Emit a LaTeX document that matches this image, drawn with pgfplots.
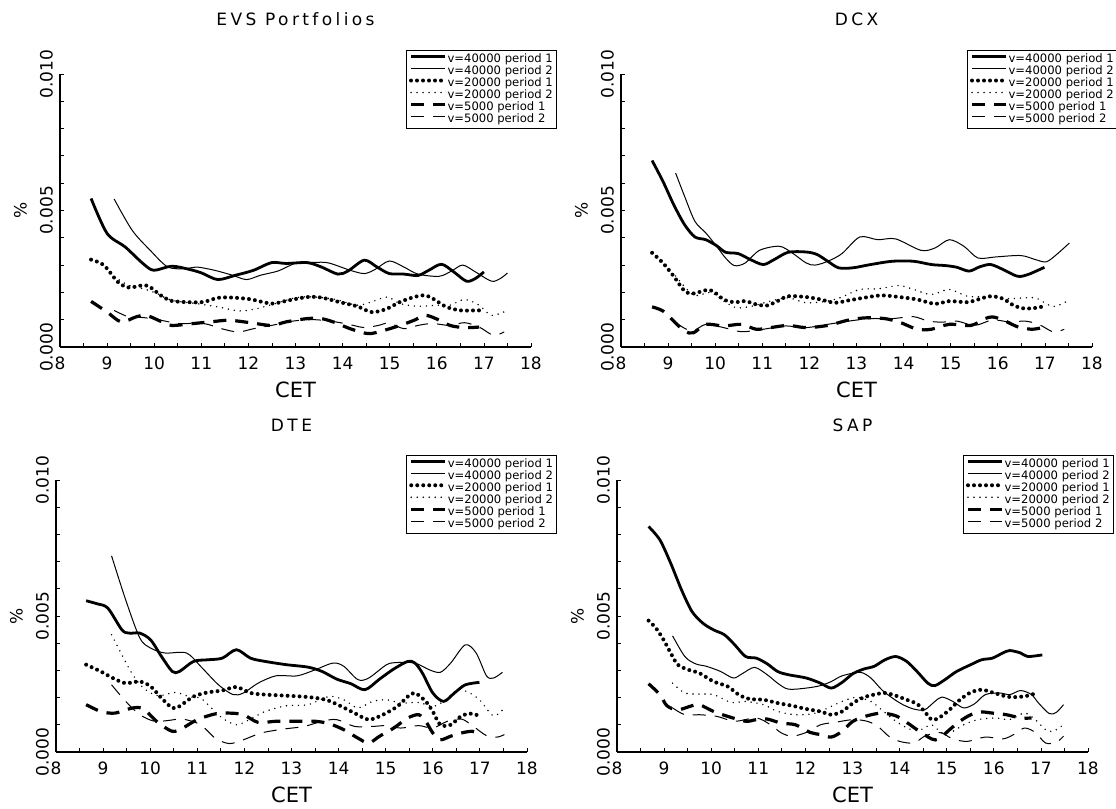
\documentclass[border=0pt]{standalone}
\usepackage{fontspec}
\setmainfont{DejaVu Sans}
\newfontfamily\ttlfont[LetterSpace=20]{DejaVu Sans}
\usepackage{pgfplots}
\pgfplotsset{compat=1.18}

\pgfplotsset{
  panel/.style={
    scale only axis, width=235.5pt, height=136.5pt,
    xmin=8, xmax=18, ymin=0, ymax=0.01,
    axis lines*=left, axis line style={-, line width=0.9pt},
    xtick={8,...,18}, minor x tick num=1,
    ytick={0,0.005,0.01}, minor y tick num=4,
    xtick pos=bottom, ytick pos=left,
    tick align=inside, major tick length=2pt, minor tick length=2pt,
    tick style={line width=0.4pt, black},
    scaled y ticks=false,
    /pgf/number format/assume math mode=true,
    yticklabel style={rotate=90, anchor=south, font=\fontsize{8.5}{10}\selectfont,
      /pgf/number format/fixed, /pgf/number format/fixed zerofill,
      /pgf/number format/precision=3},
    xticklabel style={font=\fontsize{8.5}{10}\selectfont, yshift=-1.5pt},
    title style={at={(axis description cs:0.5,1)}, anchor=base, yshift=18pt,
      font=\fontsize{8.5}{10}\ttlfont},
    xlabel={CET},
    xlabel style={at={(axis description cs:0.5,0)}, anchor=base, yshift=-25.5pt,
      font=\fontsize{10.5}{12}\selectfont},
    ylabel={\%},
    ylabel style={at={(axis description cs:0,0.5)}, anchor=center, yshift=19.75pt,
      font=\fontsize{8.5}{10}\selectfont},
    legend style={at={(1.055,1.087)}, anchor=north east, draw=black, line width=0.5pt,
      font=\fontsize{5.8}{6}\selectfont, row sep=0pt, inner sep=1.5pt,
      nodes={inner sep=0.3pt, text height=4.2pt, text depth=1.2pt}},
    legend cell align=left,
    legend image code/.code={\draw[#1] (0pt,1.6pt) -- (17pt,1.6pt);},
  },
  s1/.style={black, line width=1.4pt, smooth},
  s2/.style={black, line width=0.5pt, smooth},
  s3/.style={black, line width=2pt, line cap=round, dash pattern=on 0pt off 3pt, smooth},
  s4/.style={black, line width=0.8pt, line cap=round, dash pattern=on 0pt off 3pt, smooth},
  s5/.style={black, line width=1.6pt, dash pattern=on 6.5pt off 4.5pt, smooth},
  s6/.style={black, line width=0.5pt, dash pattern=on 6.5pt off 4.5pt, smooth},
}

\begin{document}
\begin{tikzpicture}
\useasboundingbox (0,0) rectangle (558pt,404.5pt);

% EVS Portfolios
\begin{axis}[panel, at={(30pt,231pt)}, anchor=south west, title={EVS Portfolios}]
\addplot[s1] coordinates {(8.66,0.00544)(9.0,0.00416)(9.38,0.00367)(9.76,0.00306)(9.99,0.00281)(10.37,0.00296)(10.75,0.00284)(11.01,0.00271)(11.35,0.00247)(11.73,0.00263)(12.11,0.00281)(12.49,0.00309)(12.8,0.00306)(13.25,0.00309)(13.55,0.00293)(13.9,0.00267)(14.12,0.00279)(14.46,0.00318)(14.73,0.00293)(14.99,0.00269)(15.3,0.00267)(15.6,0.00262)(15.83,0.00281)(16.1,0.00303)(16.36,0.00275)(16.63,0.00241)(16.82,0.00251)(17.0,0.00275)};
\addplot[s2] coordinates {(9.15,0.00542)(9.53,0.00428)(9.91,0.00355)(10.29,0.00293)(10.67,0.00287)(10.9,0.00293)(11.28,0.00281)(11.66,0.00263)(11.96,0.00247)(12.26,0.00263)(12.64,0.00279)(13.02,0.00308)(13.4,0.0031)(13.7,0.00308)(14.16,0.00281)(14.46,0.00269)(14.69,0.00284)(14.99,0.00315)(15.3,0.00293)(15.6,0.00267)(16.05,0.00259)(16.32,0.00279)(16.55,0.003)(16.82,0.00275)(17.16,0.00241)(17.35,0.00251)(17.5,0.00271)};
\addplot[s3] coordinates {(8.66,0.0032)(8.93,0.003)(9.23,0.00238)(9.46,0.00218)(9.76,0.00226)(9.91,0.0022)(10.14,0.00189)(10.37,0.00169)(10.75,0.00164)(11.05,0.00165)(11.35,0.0018)(11.66,0.00181)(12.04,0.00175)(12.49,0.00159)(12.8,0.00169)(13.25,0.00183)(13.55,0.00181)(13.92,0.00165)(14.31,0.00149)(14.61,0.00128)(14.91,0.00138)(15.22,0.00165)(15.52,0.00183)(15.75,0.00189)(15.94,0.00175)(16.2,0.00147)(16.51,0.00134)(16.93,0.00134)(17.0,0.00128)};
\addplot[s4] coordinates {(9.15,0.00257)(9.46,0.00226)(9.76,0.00214)(10.06,0.00196)(10.37,0.00171)(10.9,0.00159)(11.35,0.00147)(11.81,0.00132)(12.19,0.00141)(12.57,0.00159)(13.02,0.00181)(13.4,0.00183)(13.85,0.00174)(14.31,0.00153)(14.61,0.00165)(14.95,0.00183)(15.22,0.00159)(15.6,0.00149)(15.98,0.00153)(16.28,0.00153)(16.59,0.00174)(16.9,0.00153)(17.16,0.00116)(17.5,0.00134)};
\addplot[s5] coordinates {(8.66,0.00167)(9.0,0.00128)(9.3,0.00092)(9.61,0.0011)(9.83,0.00116)(10.14,0.00094)(10.37,0.00079)(10.83,0.00086)(11.2,0.00092)(11.58,0.00098)(12.04,0.00089)(12.49,0.00079)(12.8,0.00092)(13.25,0.00104)(13.55,0.00104)(13.85,0.00089)(14.16,0.00067)(14.54,0.00049)(14.84,0.00059)(15.22,0.00079)(15.52,0.00098)(15.75,0.00116)(15.98,0.00104)(16.28,0.00079)(16.59,0.00071)(16.9,0.00073)};
\addplot[s6] coordinates {(9.15,0.00134)(9.46,0.0011)(9.76,0.00108)(10.14,0.00098)(10.52,0.00086)(11.05,0.00086)(11.43,0.00067)(11.78,0.00055)(12.11,0.00067)(12.49,0.00079)(12.95,0.00095)(13.4,0.001)(13.85,0.00092)(14.23,0.00079)(14.46,0.00071)(14.76,0.00079)(14.99,0.00088)(15.3,0.00067)(15.6,0.00079)(15.9,0.00086)(16.28,0.00079)(16.59,0.00089)(16.9,0.00073)(17.2,0.00043)(17.43,0.00055)};
\legend{v=40000 period 1, v=40000 period 2, v=20000 period 1, v=20000 period 2, v=5000 period 1, v=5000 period 2}
\end{axis}

% DCX
\begin{axis}[panel, at={(310.5pt,231pt)}, anchor=south west, title={DCX}]
\addplot[s1] coordinates {(8.66,0.00683)(8.89,0.00607)(9.12,0.00521)(9.35,0.00448)(9.57,0.00403)(9.8,0.00393)(10.03,0.00371)(10.22,0.00347)(10.49,0.00342)(10.75,0.0032)(11.02,0.00302)(11.25,0.0032)(11.55,0.00347)(11.93,0.00348)(12.16,0.00339)(12.39,0.00314)(12.62,0.0029)(12.92,0.0029)(13.3,0.00302)(13.76,0.00314)(14.21,0.00314)(14.59,0.00302)(14.9,0.00298)(15.13,0.00292)(15.39,0.00278)(15.62,0.00294)(15.85,0.00302)(16.11,0.00284)(16.42,0.00259)(16.65,0.00266)(16.99,0.00292)};
\addplot[s2] coordinates {(9.16,0.00637)(9.35,0.00552)(9.57,0.0046)(9.8,0.00418)(10.03,0.00369)(10.22,0.00326)(10.41,0.00298)(10.64,0.00308)(10.94,0.00354)(11.36,0.00369)(11.63,0.00345)(11.93,0.00308)(12.12,0.003)(12.39,0.00314)(12.69,0.00342)(13.07,0.00403)(13.45,0.00393)(13.83,0.00396)(14.37,0.00354)(14.67,0.00363)(14.97,0.00393)(15.28,0.00369)(15.58,0.00326)(15.96,0.0033)(16.49,0.00335)(16.8,0.0032)(17.03,0.00312)(17.25,0.00339)(17.52,0.00381)};
\addplot[s3] coordinates {(8.66,0.00345)(8.89,0.00308)(9.12,0.00259)(9.35,0.00205)(9.54,0.00196)(9.8,0.00208)(9.95,0.00205)(10.18,0.00174)(10.41,0.00164)(10.64,0.00168)(10.87,0.00156)(11.1,0.00152)(11.32,0.00168)(11.55,0.00186)(11.93,0.00183)(12.24,0.00174)(12.54,0.00162)(12.84,0.00171)(13.15,0.0018)(13.53,0.00189)(13.91,0.00183)(14.29,0.00174)(14.67,0.00158)(14.97,0.00168)(15.35,0.00164)(15.58,0.00174)(15.85,0.00186)(16.11,0.00177)(16.34,0.00152)(16.57,0.00141)(16.84,0.00144)(16.99,0.0015)};
\addplot[s4] coordinates {(9.16,0.0026)(9.54,0.0019)(9.9,0.002)(10.18,0.00168)(10.45,0.00144)(10.79,0.0015)(11.17,0.00168)(11.55,0.0018)(11.93,0.00162)(12.39,0.00168)(12.69,0.00183)(13.07,0.00211)(13.45,0.00213)(13.91,0.00225)(14.21,0.00211)(14.59,0.00192)(14.97,0.00211)(15.35,0.00186)(15.73,0.00184)(16.19,0.00177)(16.57,0.0018)(16.8,0.0018)(17.1,0.00152)(17.25,0.0015)(17.52,0.00172)};
\addplot[s5] coordinates {(8.66,0.00147)(8.89,0.00132)(9.12,0.00095)(9.35,0.00058)(9.54,0.00052)(9.8,0.00083)(10.18,0.00077)(10.56,0.00083)(10.87,0.00065)(11.17,0.00071)(11.55,0.00079)(11.93,0.00071)(12.39,0.00079)(12.84,0.00099)(13.22,0.00107)(13.6,0.00104)(13.91,0.00091)(14.29,0.00065)(14.59,0.00065)(14.97,0.00083)(15.43,0.00079)(15.73,0.00104)(15.89,0.0011)(16.11,0.00099)(16.42,0.00074)(16.72,0.00065)(16.95,0.00071)};
\addplot[s6] coordinates {(9.16,0.00089)(9.5,0.00058)(9.8,0.00083)(10.18,0.00071)(10.56,0.00056)(11.02,0.00065)(11.48,0.00077)(11.93,0.00071)(12.39,0.00083)(12.84,0.00095)(13.3,0.00104)(13.76,0.00104)(14.21,0.00111)(14.52,0.00095)(14.82,0.00091)(15.13,0.00095)(15.51,0.00079)(15.89,0.00099)(16.27,0.00091)(16.57,0.00095)(16.87,0.00083)(17.18,0.00055)(17.41,0.00065)};
\legend{v=40000 period 1, v=40000 period 2, v=20000 period 1, v=20000 period 2, v=5000 period 1, v=5000 period 2}
\end{axis}

% DTE
\begin{axis}[panel, at={(28pt,28.5pt)}, anchor=south west, height=136pt, title={DTE},
  legend style={at={(1.064,1.092)}}]
\addplot[s1] coordinates {(8.64,0.00556)(8.87,0.00545)(9.1,0.00529)(9.4,0.00449)(9.56,0.00437)(9.78,0.00437)(10.01,0.00412)(10.24,0.00351)(10.47,0.00296)(10.62,0.00296)(10.92,0.00333)(11.22,0.00339)(11.53,0.00345)(11.83,0.00376)(12.13,0.00345)(12.44,0.00333)(12.89,0.00321)(13.35,0.00312)(13.65,0.00296)(13.96,0.00268)(14.26,0.00251)(14.56,0.00229)(14.87,0.00268)(15.17,0.00305)(15.47,0.00333)(15.62,0.00327)(15.78,0.0029)(16.0,0.00217)(16.23,0.00186)(16.46,0.00217)(16.69,0.00247)(16.99,0.00256)};
\addplot[s2] coordinates {(9.18,0.00721)(9.48,0.00559)(9.78,0.00419)(10.01,0.00382)(10.31,0.00364)(10.77,0.00364)(11.07,0.00315)(11.45,0.00247)(11.76,0.00211)(11.98,0.00217)(12.29,0.00253)(12.67,0.0028)(13.12,0.0028)(13.5,0.00302)(13.88,0.00327)(14.11,0.00315)(14.41,0.00266)(14.64,0.00272)(15.02,0.00321)(15.25,0.00329)(15.62,0.00327)(15.93,0.00302)(16.16,0.00293)(16.38,0.00327)(16.69,0.00394)(16.92,0.00364)(17.14,0.0028)(17.29,0.00272)(17.48,0.00293)};
\addplot[s3] coordinates {(8.64,0.00321)(8.95,0.00296)(9.25,0.00268)(9.48,0.00253)(9.78,0.00259)(10.01,0.00241)(10.24,0.00198)(10.47,0.00162)(10.62,0.00168)(10.92,0.00204)(11.22,0.00219)(11.53,0.00226)(11.83,0.00239)(12.13,0.00217)(12.44,0.00211)(12.89,0.00207)(13.35,0.00202)(13.73,0.00192)(14.03,0.0017)(14.34,0.00143)(14.64,0.00119)(14.94,0.00137)(15.25,0.00168)(15.47,0.00204)(15.62,0.00217)(15.85,0.00186)(16.0,0.00149)(16.16,0.001)(16.38,0.001)(16.61,0.00133)(16.84,0.00141)(16.99,0.00131)};
\addplot[s4] coordinates {(9.18,0.00431)(9.4,0.00357)(9.63,0.00284)(9.86,0.00235)(10.16,0.00207)(10.54,0.00219)(10.85,0.00202)(11.07,0.00198)(11.3,0.00162)(11.53,0.00125)(11.83,0.001)(12.13,0.00121)(12.44,0.00149)(12.89,0.0017)(13.35,0.00174)(13.8,0.00204)(14.11,0.00192)(14.41,0.00162)(14.72,0.00186)(15.02,0.00192)(15.32,0.0018)(15.7,0.00182)(16.0,0.00168)(16.23,0.00186)(16.53,0.00229)(16.76,0.00219)(16.99,0.00192)(17.29,0.00133)(17.52,0.00162)};
\addplot[s5] coordinates {(8.64,0.00174)(8.95,0.00149)(9.25,0.00143)(9.63,0.00162)(9.86,0.00158)(10.16,0.00109)(10.47,0.00076)(10.69,0.00088)(11.0,0.00119)(11.38,0.0014)(11.68,0.00143)(11.98,0.00137)(12.29,0.00109)(12.67,0.00113)(13.04,0.00113)(13.5,0.00113)(13.8,0.00104)(14.11,0.00082)(14.41,0.00051)(14.64,0.00033)(14.87,0.00058)(15.17,0.00088)(15.47,0.00125)(15.7,0.00137)(15.85,0.00113)(16.0,0.0007)(16.16,0.00045)(16.38,0.00058)(16.61,0.0007)(16.84,0.00076)(16.99,0.00064)};
\addplot[s6] coordinates {(9.18,0.00247)(9.48,0.00186)(9.78,0.00137)(10.09,0.00113)(10.39,0.00116)(10.69,0.00121)(11.07,0.001)(11.38,0.00051)(11.68,0.00031)(11.98,0.00045)(12.36,0.0007)(12.82,0.00084)(13.27,0.00094)(13.65,0.00113)(13.96,0.00119)(14.34,0.00094)(14.72,0.00094)(15.02,0.00097)(15.32,0.00088)(15.7,0.00097)(16.0,0.00088)(16.31,0.00113)(16.61,0.00121)(16.84,0.00097)(17.14,0.0006)(17.37,0.00055)(17.52,0.00064)};
\legend{v=40000 period 1, v=40000 period 2, v=20000 period 1, v=20000 period 2, v=5000 period 1, v=5000 period 2}
\end{axis}

% SAP
\begin{axis}[panel, at={(308.5pt,28.5pt)}, anchor=south west, height=136pt, title={SAP},
  legend style={at={(1.055,1.092)}}]
\addplot[s1] coordinates {(8.67,0.00829)(8.91,0.0078)(9.14,0.00694)(9.37,0.00596)(9.59,0.00517)(9.82,0.00474)(10.05,0.00449)(10.28,0.00431)(10.5,0.00394)(10.73,0.00351)(10.96,0.00345)(11.19,0.00324)(11.41,0.00296)(11.64,0.00284)(12.02,0.00272)(12.32,0.00253)(12.55,0.00235)(12.78,0.00256)(13.01,0.00288)(13.24,0.00305)(13.46,0.00315)(13.69,0.00339)(13.92,0.00351)(14.15,0.00333)(14.37,0.00296)(14.6,0.00253)(14.75,0.00244)(14.98,0.00268)(15.21,0.00296)(15.51,0.00321)(15.74,0.00339)(15.97,0.00345)(16.19,0.00364)(16.34,0.00373)(16.57,0.00364)(16.72,0.00351)(17.03,0.00357)};
\addplot[s2] coordinates {(9.18,0.00427)(9.44,0.00351)(9.67,0.00324)(9.9,0.00315)(10.2,0.00296)(10.47,0.00272)(10.66,0.00288)(10.92,0.00311)(11.19,0.00284)(11.41,0.00253)(11.64,0.00231)(12.02,0.00235)(12.32,0.00244)(12.55,0.00259)(12.78,0.0028)(13.16,0.00293)(13.39,0.00272)(13.62,0.00229)(13.85,0.00198)(14.07,0.00174)(14.3,0.00158)(14.53,0.00155)(14.75,0.00186)(14.9,0.00202)(15.13,0.00186)(15.36,0.00162)(15.59,0.00177)(15.82,0.00211)(16.12,0.00217)(16.34,0.00211)(16.57,0.00226)(16.8,0.00211)(16.95,0.0018)(17.18,0.00141)(17.33,0.00146)(17.48,0.00174)};
\addplot[s3] coordinates {(8.67,0.00483)(8.83,0.00455)(8.99,0.00412)(9.14,0.00364)(9.29,0.00321)(9.52,0.00302)(9.75,0.0029)(10.05,0.00259)(10.35,0.00241)(10.58,0.00211)(10.81,0.00195)(11.11,0.00192)(11.41,0.0018)(11.72,0.0017)(12.02,0.00158)(12.32,0.00149)(12.55,0.00137)(12.78,0.00149)(13.01,0.0018)(13.24,0.00201)(13.46,0.00211)(13.69,0.00217)(13.92,0.00207)(14.15,0.00192)(14.37,0.00177)(14.53,0.00149)(14.68,0.00119)(14.83,0.00125)(15.06,0.00155)(15.28,0.00192)(15.51,0.00219)(15.74,0.00229)(15.97,0.00219)(16.27,0.00204)(16.5,0.00202)(16.72,0.00207)(16.91,0.00217)};
\addplot[s4] coordinates {(9.18,0.00253)(9.44,0.00217)(9.75,0.00213)(10.05,0.00211)(10.43,0.00182)(10.73,0.00186)(11.11,0.00174)(11.41,0.00149)(11.79,0.00137)(12.17,0.00141)(12.48,0.00162)(12.78,0.00186)(13.08,0.00201)(13.39,0.00186)(13.62,0.00155)(13.92,0.00113)(14.22,0.00084)(14.45,0.00082)(14.68,0.001)(14.9,0.0007)(15.13,0.00076)(15.36,0.001)(15.66,0.00119)(16.04,0.00125)(16.34,0.00119)(16.65,0.00143)(16.88,0.00119)(17.1,0.00082)(17.26,0.00076)(17.48,0.001)};
\addplot[s5] coordinates {(8.67,0.00251)(8.91,0.00211)(9.06,0.0017)(9.29,0.00155)(9.59,0.0017)(9.75,0.00174)(10.05,0.00149)(10.35,0.00131)(10.73,0.00113)(10.96,0.00119)(11.19,0.00121)(11.49,0.00106)(11.79,0.001)(12.1,0.00072)(12.32,0.00064)(12.55,0.00055)(12.78,0.00076)(13.01,0.00113)(13.31,0.00133)(13.62,0.00143)(13.92,0.00133)(14.15,0.00109)(14.37,0.00082)(14.68,0.00048)(14.83,0.00048)(15.06,0.00082)(15.28,0.00113)(15.51,0.00137)(15.74,0.00147)(15.97,0.00143)(16.27,0.00137)(16.57,0.00125)(16.8,0.00125)};
\addplot[s6] coordinates {(9.18,0.00162)(9.44,0.00137)(9.75,0.00137)(10.12,0.00131)(10.5,0.00113)(10.96,0.00125)(11.26,0.001)(11.49,0.0007)(11.72,0.00058)(12.02,0.00072)(12.32,0.001)(12.63,0.00109)(13.01,0.00119)(13.31,0.00113)(13.54,0.00094)(13.77,0.00058)(14.0,0.00039)(14.3,0.00033)(14.53,0.00058)(14.75,0.0007)(14.9,0.0007)(15.13,0.00048)(15.44,0.00039)(15.82,0.00055)(16.19,0.00048)(16.42,0.00064)(16.65,0.00088)(16.88,0.00072)(17.1,0.00033)(17.33,0.00036)(17.48,0.00058)};
\legend{v=40000 period 1, v=40000 period 2, v=20000 period 1, v=20000 period 2, v=5000 period 1, v=5000 period 2}
\end{axis}
\end{tikzpicture}
\end{document}
